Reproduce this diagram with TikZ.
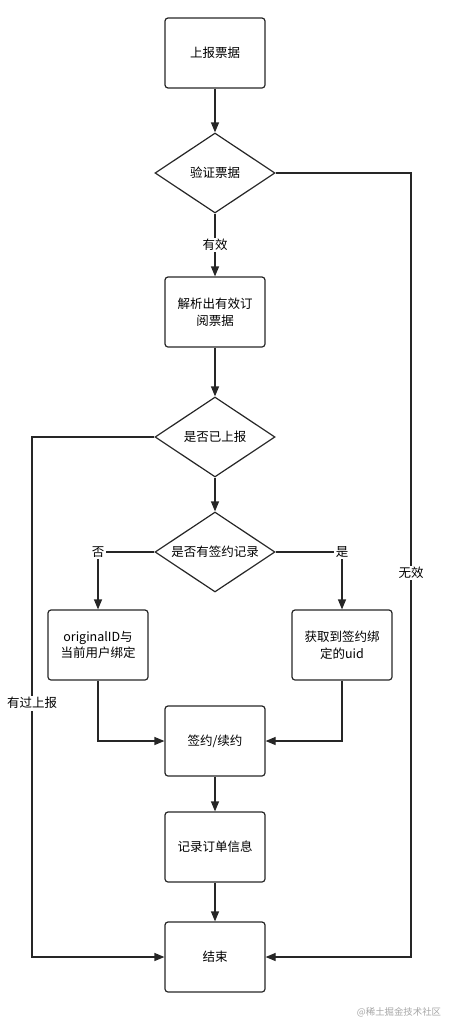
\documentclass[tikz,border=0pt]{standalone}
\usepackage{fontspec}
\setmainfont{Noto Sans CJK SC}
\usetikzlibrary{shapes.geometric,arrows.meta}

\tikzset{
  box/.style={draw=black!85, line width=1.2pt, rounded corners=3pt, minimum width=100pt, minimum height=70pt, align=center, inner sep=0pt},
  decision/.style={diamond, aspect=1.5, draw=black!85, line width=1.2pt, minimum width=120pt, minimum height=80pt, inner sep=0pt, align=center},
  tag/.style={fill=white, inner sep=1.5pt}
}

\begin{document}
\begin{tikzpicture}[x=1pt, y=-1pt, >={Triangle[length=10pt,width=8pt]}, line width=1.2pt,
    font=\fontsize{12.5}{16.5}\selectfont]

        % Fix the page to the size of the reference
        \useasboundingbox (0,0) rectangle (456,1031);

        % Main column
        \node[box] (report) at (215,53) {上报票据};
        \node[decision] (verify) at (215,173) {验证票据};
        \node[box] (parse) at (215,312) {解析出有效订\\阅票据};
        \node[decision] (reported) at (215,437) {是否已上报};
        \node[decision] (signrec) at (215,552) {是否有签约记录};

        % The two branches
        \node[box] (bindnew) at (98,645) {originalID与\\当前用户绑定};
        \node[box] (getuid) at (342,645) {获取到签约绑\\定的uid};

        \node[box] (sign) at (215,741) {签约/续约};
        \node[box] (record) at (215,847) {记录订单信息};
        \node[box] (finish) at (215,957) {结束};

        % Corners of the side rails
        \coordinate (lcorner) at (32,957);
        \coordinate (rcorner) at (411,957);

        % Straight flow
        \draw[->, draw=black!85] (report) -- (verify);
        \draw[->, draw=black!85] (verify) -- node[tag] {有效} (parse);
        \draw[->, draw=black!85] (parse) -- (reported);
        \draw[->, draw=black!85] (reported) -- (signrec);

        % Signing record: no / yes
        \draw[->, draw=black!85] (signrec.west) -| node[tag] {否} (bindnew);
        \draw[->, draw=black!85] (signrec.east) -| node[tag] {是} (getuid);
        \draw[->, draw=black!85] (bindnew) |- (sign);
        \draw[->, draw=black!85] (getuid) |- (sign);

        \draw[->, draw=black!85] (sign) -- (record);
        \draw[->, draw=black!85] (record) -- (finish);

        % Already reported (left rail) and invalid (right rail)
        \draw[->, draw=black!85] (reported.west) -| node[tag, pos=0.756] {有过上报} (lcorner) -- (finish);
        \draw[->, draw=black!85] (verify.east) -| node[tag, pos=0.755] {无效} (rcorner) -- (finish);

        % Watermark
        \node[text=black!35, font=\fontsize{9.4}{11}\selectfont] (mark) at (399,1012) {@稀土掘金技术社区};

\end{tikzpicture}
\end{document}
